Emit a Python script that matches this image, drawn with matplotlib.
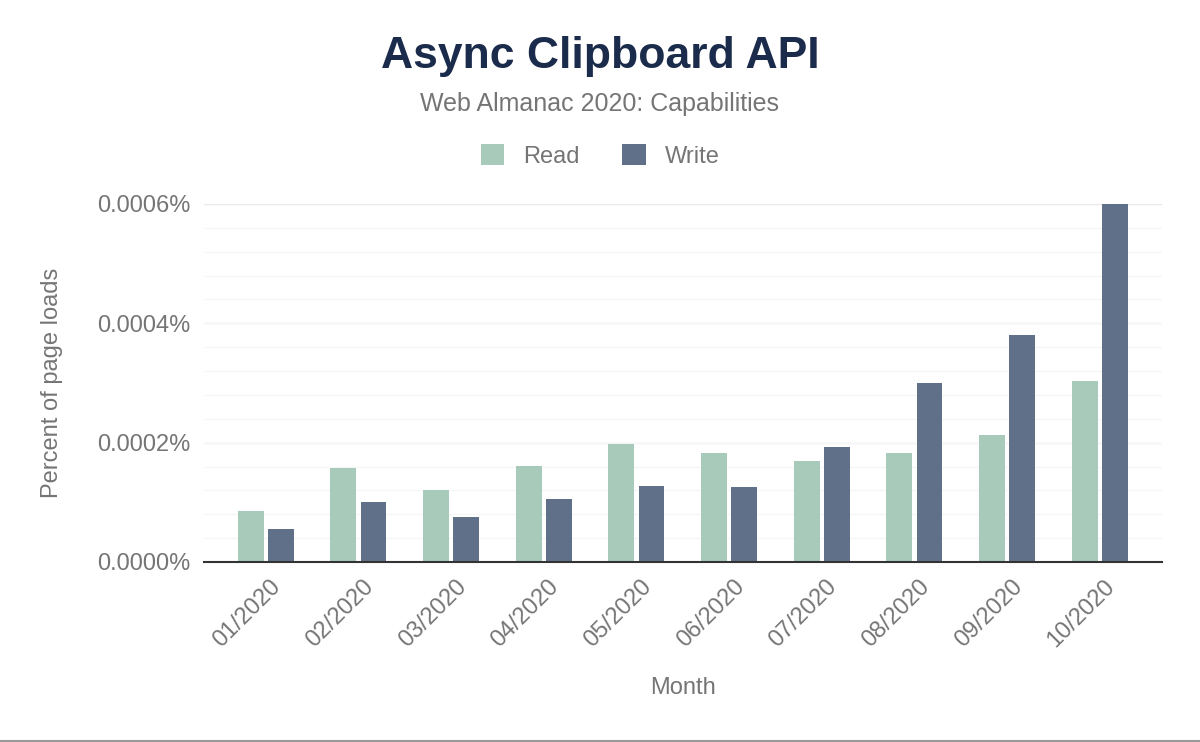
import matplotlib.pyplot as plt
import matplotlib.transforms as mtransforms
import numpy as np

months = ['01/2020', '02/2020', '03/2020', '04/2020', '05/2020',
          '06/2020', '07/2020', '08/2020', '09/2020', '10/2020']
read = [0.000085, 0.000158, 0.000121, 0.000161, 0.000198,
        0.000182, 0.000169, 0.000182, 0.000213, 0.000303]
write = [0.000055, 0.000101, 0.000075, 0.000105, 0.000128,
         0.000125, 0.000192, 0.000300, 0.000380, 0.000600]

read_color = '#a8cabb'
write_color = '#617089'
text_gray = '#757575'

plt.rcParams['font.family'] = ['Liberation Sans', 'DejaVu Sans']

fig = plt.figure(figsize=(12, 7.42), dpi=100)
ax = fig.add_axes([0.17, 0.2426, 0.798, 0.4825])

x = np.arange(len(months))
w = 0.28
ax.bar(x - 0.162, read, w, color=read_color, label='Read', zorder=3)
ax.bar(x + 0.162, write, w, color=write_color, label='Write', zorder=3)

ax.set_xlim(-0.667, 9.667)
ax.set_ylim(0, 0.0006)

# light minor grid plus slightly darker major grid
for v in np.arange(0.00004, 0.0006, 0.00004):
    ax.axhline(v, color='#f6f6f6', linewidth=1, zorder=1)
ax.set_yticks([0, 0.0002, 0.0004, 0.0006])
ax.set_yticklabels(['0.0000%', '0.0002%', '0.0004%', '0.0006%'])
ax.grid(axis='y', color='#eaeaea', linewidth=1, zorder=1)
ax.set_axisbelow(True)

for s in ['top', 'right', 'left']:
    ax.spines[s].set_visible(False)
ax.spines['bottom'].set_color('#333333')
ax.spines['bottom'].set_linewidth(1.5)
ax.spines['bottom'].set_zorder(4)

ax.tick_params(axis='y', length=0, pad=10, labelsize=17, labelcolor=text_gray)
ax.tick_params(axis='x', length=0, pad=10, labelsize=17, labelcolor=text_gray)
ax.set_xticks(x)
ax.set_xticklabels(months, rotation=45, ha='right', rotation_mode='anchor')
offset = mtransforms.ScaledTranslation(0.04, 0, fig.dpi_scale_trans)
for lbl in ax.get_xticklabels():
    lbl.set_transform(lbl.get_transform() + offset)

ax.set_ylabel('Percent of page loads', fontsize=17, color=text_gray, labelpad=24)
ax.set_xlabel('Month', fontsize=17, color=text_gray, labelpad=18)

fig.text(0.5, 0.924, 'Async Clipboard API', ha='center', va='center',
         fontsize=32, fontweight='bold', color='#1b2b4b')
fig.text(0.5, 0.86, 'Web Almanac 2020: Capabilities', ha='center', va='center',
         fontsize=18, color=text_gray)

ax.legend(loc='center', bbox_to_anchor=(0.5, 0.79), bbox_transform=fig.transFigure,
          ncol=2, frameon=False, fontsize=17, labelcolor=text_gray,
          handlelength=1.0, handleheight=1.0, columnspacing=1.8, handletextpad=0.8)

fig.add_artist(plt.Line2D([0, 1], [0.002, 0.002], color='#999999', linewidth=1.5))

fig.savefig('out.png', dpi=100, facecolor='white')
